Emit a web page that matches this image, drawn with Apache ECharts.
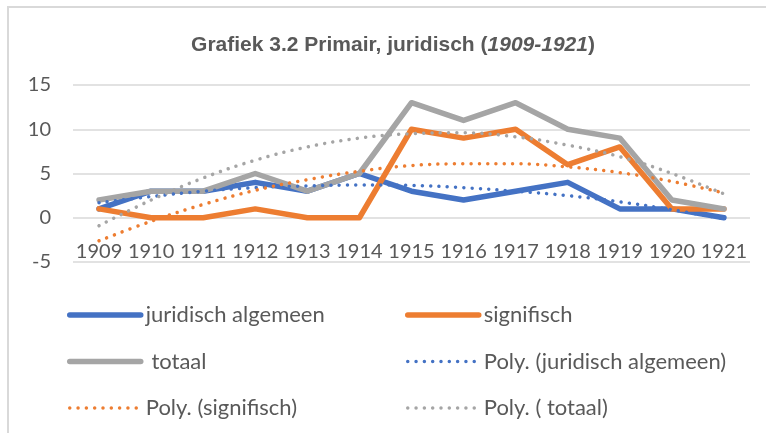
<!DOCTYPE html>
<html>
<head>
<meta charset="utf-8">
<script src="https://cdn.jsdelivr.net/npm/echarts@6/dist/echarts.min.js"></script>
<style>
  html, body { margin: 0; padding: 0; background: #fff; }
  #chart { width: 766px; height: 433px; }
</style>
</head>
<body>
<div id="chart"></div>
<script>
// jaren op de x-as
const years = ["1909", "1910", "1911", "1912", "1913", "1914", "1915", "1916", "1917", "1918", "1919", "1920", "1921"];

// aantallen per jaar
const juridischAlgemeen = [1, 3, 3, 4, 3, 5, 3, 2, 3, 4, 1, 1, 0];
const signifisch = [1, 0, 0, 1, 0, 0, 10, 9, 10, 6, 8, 1, 1];
const totaal = [2, 3, 3, 5, 3, 5, 13, 11, 13, 10, 9, 2, 1];

// trendlijnen (Poly.)
const polyJuridisch = [1.7, 2.4, 3.0, 3.4, 3.6, 3.7, 3.65, 3.4, 3.0, 2.5, 1.8, 0.9, -0.1];
const polySignifisch = [-2.6, -0.4, 1.5, 3.1, 4.3, 5.25, 5.9, 6.1, 6.1, 5.75, 5.1, 4.1, 2.8];
const polyTotaal = [-0.9, 2.0, 4.5, 6.5, 8.0, 9.0, 9.5, 9.6, 9.15, 8.2, 6.9, 5.0, 2.7];

const yTicks = { min: -5, max: 15, interval: 5 };

const blue = "#4472c4";
const orange = "#ed7d31";
const grey = "#a5a5a5";
const textColor = "#595959";
const font = "Lato";

let myChart = echarts.init(document.getElementById("chart"));

function solid(name, data, color) {
  return {
    name: name,
    type: "line",
    data: data,
    symbol: "none",
    color: color,
    lineStyle: { color: color, width: 5.5, cap: "round", join: "round" },
    z: 3
  };
}

function dotted(name, data, color) {
  return {
    name: name,
    type: "line",
    data: data,
    symbol: "none",
    smooth: 0.4,
    color: color,
    lineStyle: { color: color, width: 3.5, type: [0.01, 8.3], cap: "round" },
    z: 4
  };
}

// legenda-item: lijn zonder bolletje
function legendItem(name, color, isDotted) {
  return {
    name: name,
    itemStyle: { color: "rgba(0,0,0,0)", borderColor: "rgba(0,0,0,0)", borderWidth: 0 },
    lineStyle: isDotted
      ? { color: color, width: 3.5, type: [0.01, 8.3], cap: "round" }
      : { color: color, width: 5.5, type: "solid", cap: "round" }
  };
}

let legendBase = {
  orient: "vertical",
  top: 299,
  itemWidth: 71,
  itemHeight: 20,
  itemGap: 24.5,
  textStyle: { color: textColor, fontSize: 22, fontFamily: font, lineHeight: 20 }
};

let option = {
  animation: false,
  backgroundColor: "#fff",
  title: {
    text: "{b|Grafiek 3.2 Primair, juridisch (}{i|1909-1921}{b|)}",
    left: 388,
    textAlign: "center",
    top: 30,
    textStyle: {
      rich: {
        b: { fontFamily: "Liberation Sans", fontWeight: "bold", fontSize: 21, color: textColor },
        i: { fontFamily: "Liberation Sans", fontWeight: "bold", fontStyle: "italic", fontSize: 21, color: textColor }
      }
    }
  },
  graphic: [
    {
      type: "rect",
      shape: { x: 8, y: 7, width: 800, height: 500 },
      style: { fill: null, stroke: "#d9d9d9", lineWidth: 2 },
      silent: true
    }
  ],
  legend: [
    Object.assign({}, legendBase, {
      left: 62,
      data: [
        legendItem("juridisch algemeen", blue, false),
        legendItem(" totaal", grey, false),
        legendItem("Poly. (signifisch)", orange, true)
      ]
    }),
    Object.assign({}, legendBase, {
      left: 400,
      data: [
        legendItem("signifisch", orange, false),
        legendItem("Poly. (juridisch algemeen)", blue, true),
        legendItem("Poly. ( totaal)", grey, true)
      ]
    })
  ],
  grid: {
    left: 73,
    right: 16,
    top: 85,
    bottom: 171,
    containLabel: false
  },
  xAxis: {
    type: "category",
    data: years,
    boundaryGap: true,
    axisLine: { show: false, onZero: false },
    axisTick: { show: false },
    // labels staan bij de 0-lijn, zoals in Excel
    axisLabel: { color: textColor, fontSize: 20, fontFamily: font, margin: -20, interval: 0 }
  },
  yAxis: {
    type: "value",
    min: yTicks.min,
    max: yTicks.max,
    interval: yTicks.interval,
    axisLine: { show: false },
    axisTick: { show: false },
    splitLine: { lineStyle: { color: "#d9d9d9", width: 1.5 } },
    axisLabel: { color: textColor, fontSize: 20, fontFamily: font, margin: 22 }
  },
  series: [
    solid("juridisch algemeen", juridischAlgemeen, blue),
    solid("signifisch", signifisch, orange),
    solid(" totaal", totaal, grey),
    dotted("Poly. (juridisch algemeen)", polyJuridisch, blue),
    dotted("Poly. (signifisch)", polySignifisch, orange),
    dotted("Poly. ( totaal)", polyTotaal, grey)
  ]
};

myChart.setOption(option, true);

window.addEventListener("resize", () => {
  myChart.resize();
});
</script>
</body>
</html>
